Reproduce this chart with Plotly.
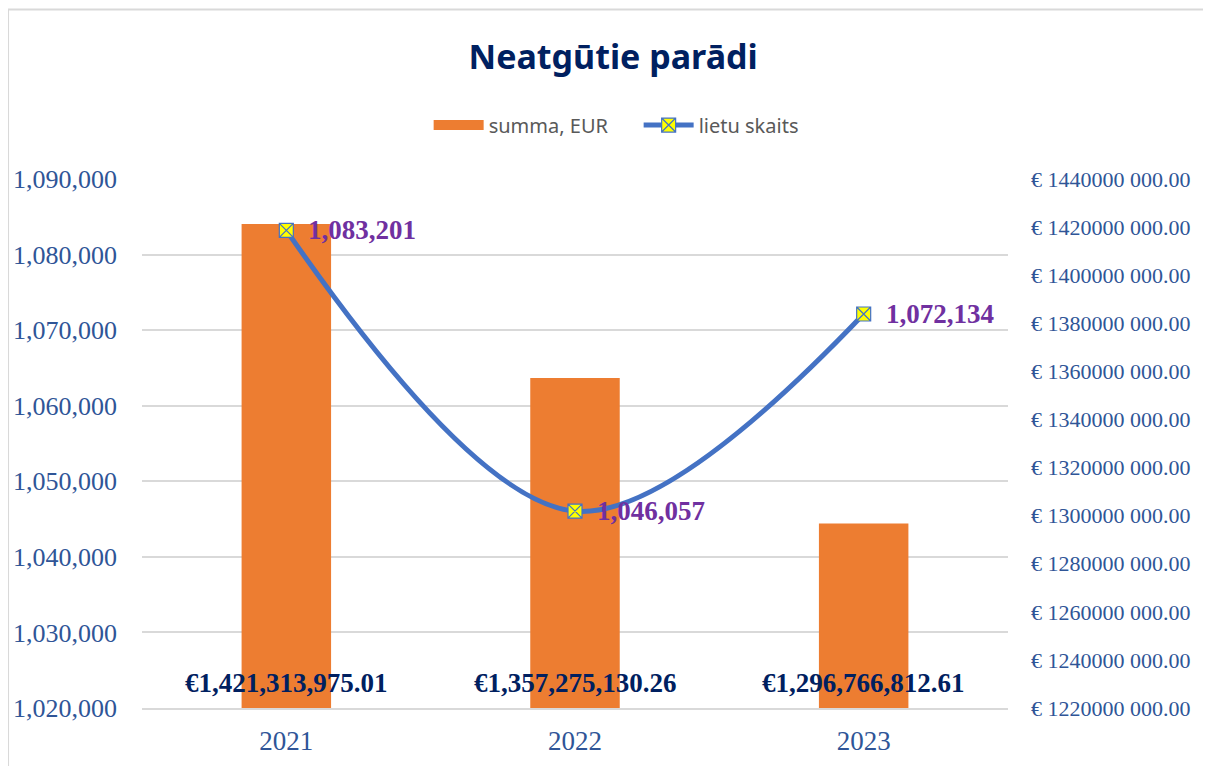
import plotly.graph_objects as go

# data
years = ["2021", "2022", "2023"]
summa_eur = [1421313975.01, 1357275130.26, 1296766812.61]
lietu_skaits = [1083201, 1046057, 1072134]

left_ticks = [1020000, 1030000, 1040000, 1050000, 1060000, 1070000, 1080000, 1090000]
right_ticks = [1220000000 + 20000000 * i for i in range(12)]
right_labels = [f"€ {v // 1000} 000.00" for v in right_ticks]

SERIF = "Liberation Serif"
AXIS_BLUE = "#2f5597"
ORANGE = "#ed7d31"
BLUE = "#4472c4"

xpos = list(range(len(years)))

fig = go.Figure()

# bars (right axis)
fig.add_trace(go.Bar(
    x=xpos,
    y=summa_eur,
    name="summa, EUR",
    marker=dict(color=ORANGE, line=dict(width=0)),
    width=0.31,
    showlegend=False,
))
# legend swatch for the bars (wide rectangle like the original)
fig.add_trace(go.Scatter(
    x=[None], y=[None], mode="lines", name="summa, EUR",
    line=dict(color=ORANGE, width=15),
))

# line (left axis)
fig.add_trace(go.Scatter(
    x=xpos,
    y=lietu_skaits,
    name="lietu skaits",
    mode="lines+markers",
    line=dict(color=BLUE, width=5, shape="spline", smoothing=1.0),
    marker=dict(symbol="square-x", size=14, color="#ffff00",
                line=dict(color=BLUE, width=1.2)),
    yaxis="y2",
    cliponaxis=False,
))

# line value labels
for xp, v in zip(xpos, lietu_skaits):
    fig.add_annotation(
        x=xp, y=v, xref="x", yref="y2",
        text=f"<b>{v:,}</b>", showarrow=False,
        xanchor="left", yanchor="middle", xshift=20,
        font=dict(family=SERIF, size=27, color="#7030a0"),
    )

# bar value labels at the bar base
for xp, v in zip(xpos, summa_eur):
    fig.add_annotation(
        x=xp, y=right_ticks[0], xref="x", yref="y",
        text=f"<b>€{v:,.2f}</b>", showarrow=False,
        yanchor="middle", yshift=25,
        font=dict(family=SERIF, size=27, color="#002060"),
    )

# chart area border
fig.add_shape(type="line", xref="paper", yref="paper",
              x0=-0.1547, x1=-0.1547, y0=-0.2, y1=1.3204,
              line=dict(color="#d9d9d9", width=2))
fig.add_shape(type="line", xref="paper", yref="paper",
              x0=-0.1547, x1=1.3, y0=1.3204, y1=1.3204,
              line=dict(color="#d9d9d9", width=2))

fig.update_layout(
    width=1203,
    height=758,
    margin=dict(l=134, r=203, t=171, b=58),
    paper_bgcolor="white",
    plot_bgcolor="white",
    title=dict(
        text="<b>Neatgūtie parādi</b>",
        x=0.503, xanchor="center", y=0.9354, yanchor="middle",
        font=dict(family="Noto Sans", size=34, color="#002060"),
    ),
    legend=dict(
        orientation="h", x=0.331, xanchor="left", y=1.102, yanchor="middle",
        font=dict(family="Noto Sans", size=20, color="#595959"),
        bgcolor="rgba(0,0,0,0)", itemwidth=50, entrywidth=145,
    ),
    xaxis=dict(
        range=[-0.5, len(years) - 0.5],
        tickvals=xpos, ticktext=years,
        showgrid=False, showline=True, linecolor="#d9d9d9", linewidth=2,
        ticks="", ticklabelstandoff=8, automargin=False,
        tickfont=dict(family=SERIF, size=27, color=AXIS_BLUE),
    ),
    yaxis=dict(
        side="right",
        range=[right_ticks[0], right_ticks[-1]],
        tickvals=right_ticks, ticktext=right_labels,
        showgrid=False, zeroline=False, ticks="", ticklabelstandoff=22,
        automargin=False,
        tickfont=dict(family=SERIF, size=22, color=AXIS_BLUE),
    ),
    yaxis2=dict(
        side="left", overlaying="y",
        range=[left_ticks[0], left_ticks[-1]],
        tickvals=left_ticks, ticktext=[f"{v:,}" for v in left_ticks],
        showgrid=True, gridcolor="#d9d9d9", gridwidth=2, zeroline=False, ticks="",
        ticklabelstandoff=24, automargin=False,
        tickfont=dict(family=SERIF, size=26, color=AXIS_BLUE),
    ),
)

fig.write_html("out.html")
